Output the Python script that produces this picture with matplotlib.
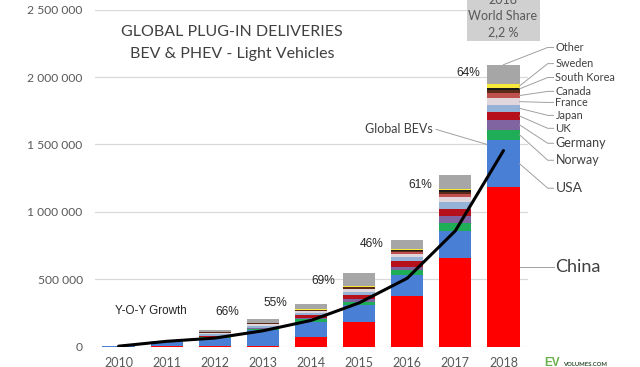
import matplotlib
matplotlib.use("Agg")
import matplotlib.pyplot as plt
from matplotlib.patches import Rectangle
import numpy as np

# deliveries per year, stacked bottom -> top
years = [2010, 2011, 2012, 2013, 2014, 2015, 2016, 2017, 2018]
china = [1000, 3000, 5000, 8000, 70000, 185000, 374000, 660000, 1182000]
usa = [1000, 30000, 62000, 115000, 115000, 124000, 156000, 197000, 350000]
norway = [0, 2000, 4000, 8000, 22000, 26000, 37000, 62000, 79000]
germany = [0, 1000, 3000, 6000, 8000, 16000, 25000, 54000, 69000]
uk = [0, 1000, 2000, 4000, 17000, 32000, 45000, 47000, 62000]
japan = [2000, 4000, 18000, 16000, 18000, 22000, 25000, 56000, 52000]
france = [0, 2000, 8000, 10000, 12000, 20000, 28000, 37000, 48000]
canada = [0, 0, 2000, 2000, 5000, 6000, 10000, 22000, 42000]
netherlands = [0, 0, 5000, 4000, 7000, 12000, 12000, 12000, 20000]
south_korea = [0, 0, 500, 1000, 1000, 3000, 6000, 15000, 18000]
sweden = [0, 0, 1000, 1000, 4000, 8000, 10000, 10000, 25000]
other = [4000, 2000, 12000, 29000, 40000, 90000, 62000, 104000, 145000]

global_bev = [4000, 40000, 64000, 118000, 195000, 325000, 508000, 860000, 1455000]

growth_labels = ["66%", "55%", "69%", "46%", "61%", "64%"]
growth_years = [2012, 2013, 2014, 2015, 2016, 2017]
growth_label_y = [257000, 324000, 487000, 761000, 1196000, 2027000]

series = [
    ("China", china, "#ff0000"),
    ("USA", usa, "#4a7fd6"),
    ("Norway", norway, "#1fae57"),
    ("Germany", germany, "#8064a2"),
    ("UK", uk, "#b5101b"),
    ("Japan", japan, "#95b3d7"),
    ("France", france, "#e0d6dc"),
    ("Canada", canada, "#c0504d"),
    ("Netherlands", netherlands, "#5b2a18"),
    ("South Korea", south_korea, "#1a1a1a"),
    ("Sweden", sweden, "#f7ea3a"),
    ("Other", other, "#a6a6a6"),
]

# right-hand labels for the 2018 bar: (name, label y, font size)
right_labels = [
    ("Other", 2220000, 7.8),
    ("Sweden", 2100000, 7.8),
    ("South Korea", 1997000, 7.8),
    ("Canada", 1894000, 7.8),
    ("France", 1812000, 7.8),
    ("Japan", 1716000, 7.8),
    ("UK", 1620000, 8.2),
    ("Germany", 1509000, 9),
    ("Norway", 1383000, 9),
    ("USA", 1176000, 10),
    ("China", 591000, 13),
]

BODY = ["Lato", "DejaVu Sans"]
NARROW = ["Liberation Sans"]
GREY = "#595959"

fig = plt.figure(figsize=(6.4, 3.67), dpi=100)
ax = fig.add_axes([0.1477, 0.0553, 0.6766, 0.9183])

x = np.array(years, dtype=float)
bottom = np.zeros(len(years))
seg_mid = {}
for name, values, color in series:
    vals = np.array(values, dtype=float)
    ax.bar(x, vals, width=0.67, bottom=bottom, color=color, linewidth=0, zorder=2)
    seg_mid[name] = bottom[-1] + vals[-1] / 2
    bottom = bottom + vals
totals = bottom

ax.plot(x, global_bev, color="black", lw=2.2, zorder=3, solid_capstyle="round")

ax.set_xlim(2009.5, 2018.5)
ax.set_ylim(0, 2500000)
ax.set_yticks(np.arange(0, 2500001, 500000))
ax.set_yticklabels([f"{v:,.0f}".replace(",", " ") for v in ax.get_yticks()],
                   family=BODY, fontsize=8.7, color=GREY)
ax.set_xticks(x)
ax.set_xticklabels([str(y) for y in years], family=BODY, fontsize=9, color=GREY)
ax.tick_params(axis="both", length=0)
ax.tick_params(axis="y", pad=8.5)
ax.tick_params(axis="x", pad=7.5)
for side in ax.spines.values():
    side.set_visible(False)
ax.yaxis.grid(True, color="#d9d9d9", lw=0.9)
ax.set_axisbelow(True)

# growth annotations
for lab, yr, yy in zip(growth_labels, growth_years, growth_label_y):
    ax.text(yr + 0.26, yy, lab, ha="center", va="center", family=NARROW,
            fontsize=8.6, color="#262626")
ax.text(2010.68, 264000, "Y-O-Y Growth", ha="center", va="center", family=NARROW,
        fontsize=8.4, color="#262626")

# labels to the right of the 2018 bar
bar_edge = years[-1] + 0.335
label_x = 2019.08
for name, ly, fs in right_labels:
    if name == "Other":
        start = (years[-1], totals[-1])
    else:
        start = (bar_edge, seg_mid[name])
    ax.plot([start[0], label_x - 0.16, label_x - 0.04], [start[1], ly, ly],
            color="#a0a0a0", lw=0.7, clip_on=False, zorder=4)
    ax.text(label_x, ly, name, ha="left", va="center", family=BODY,
            fontsize=fs, color="#404040", clip_on=False)

# Global BEVs pointer
ax.text(2016.52, 1612000, "Global BEVs", ha="right", va="center", family=BODY,
        fontsize=9, color="#404040")
ax.plot([2016.6, 2017.65], [1612000, 1501000], color="#a0a0a0", lw=0.7, zorder=4)

# title
fig.text(0.3625, 0.913, "GLOBAL PLUG-IN DELIVERIES", ha="center", va="center",
         family=BODY, fontsize=11.5, color="#404040")
fig.text(0.3625, 0.852, "BEV & PHEV - Light Vehicles", ha="center", va="center",
         family=BODY, fontsize=11.5, color="#404040")

# world share box
fig.add_artist(Rectangle((0.729, 0.888), 0.114, 0.2, transform=fig.transFigure,
                         facecolor="#d0d0d0", edgecolor="none", zorder=5))
for txt, yy in [("2018", 1.0), ("World Share", 0.956), ("2,2 %", 0.913)]:
    fig.text(0.786, yy, txt, ha="center", va="center", family=BODY, fontsize=9,
             color=GREY, zorder=6)

# logo
fig.text(0.851, 0.027, "EV", ha="left", va="top", family=NARROW, fontsize=8.5,
         fontweight="bold", color="#6ab04c")
fig.text(0.879, 0.008, "VOLUMES.COM", ha="left", va="center", family=BODY,
         fontsize=4.2, fontweight="bold", color="#2e4d2e")

fig.savefig("out.png", dpi=100)
